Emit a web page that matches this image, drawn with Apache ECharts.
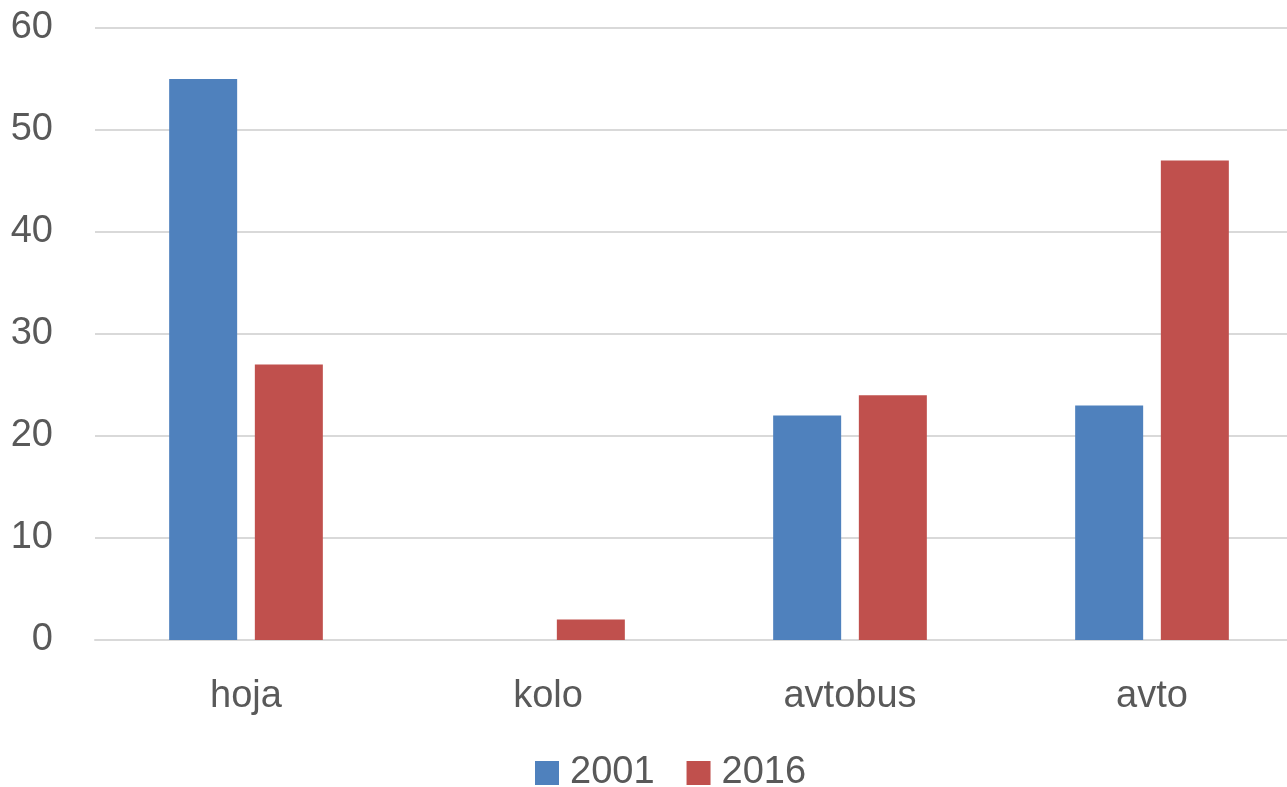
<!DOCTYPE html>
<html>
<head>
    <meta charset="UTF-8">
    <title>hoja kolo avtobus avto</title>
    <script src="https://cdn.jsdelivr.net/npm/echarts@6/dist/echarts.min.js"></script>
    <style>
        html, body { margin: 0; padding: 0; background: #ffffff; }
        #main { width: 1287px; height: 787px; }
    </style>
</head>
<body>
<div id="main"></div>
<script type="text/javascript">
    var categories = ['hoja', 'kolo', 'avtobus', 'avto'];
    var values2001 = [55, 0, 22, 23];
    var values2016 = [27, 2, 24, 47];
    var yTicks = [0, 10, 20, 30, 40, 50, 60];

    var textColor = '#595959';
    var font = '"Liberation Sans", Arial, sans-serif';

    var myChart = echarts.init(document.getElementById('main'));

    var option = {
        animation: false,
        legend: {
            data: ['2001', '2016'],
            left: 530,
            top: 749,
            itemWidth: 24,
            itemHeight: 24,
            itemGap: 32,
            icon: 'rect',
            textStyle: {
                color: textColor,
                fontSize: 38,
                fontFamily: font,
                padding: [0, 0, 0, 6]
            }
        },
        // the plot runs past the right edge of the picture
        grid: {
            top: 28,
            bottom: 147,
            left: 95,
            width: 1208,
            outerBoundsMode: 'none'
        },
        xAxis: {
            type: 'category',
            data: categories,
            axisTick: {show: false},
            axisLine: {lineStyle: {color: '#d9d9d9', width: 2}},
            axisLabel: {
                color: textColor,
                fontSize: 38,
                fontFamily: font,
                margin: 38
            }
        },
        yAxis: {
            type: 'value',
            min: yTicks[0],
            max: yTicks[yTicks.length - 1],
            interval: 10,
            axisLine: {show: false},
            axisTick: {show: false},
            splitLine: {lineStyle: {color: '#d9d9d9', width: 2}},
            axisLabel: {
                color: textColor,
                fontSize: 38,
                fontFamily: font,
                margin: 42
            }
        },
        series: [
            {
                name: '2001',
                type: 'bar',
                data: values2001,
                barWidth: 68,
                barGap: '26%',
                itemStyle: {color: '#4f81bd'}
            },
            {
                name: '2016',
                type: 'bar',
                data: values2016,
                barWidth: 68,
                itemStyle: {color: '#c0504d'}
            }
        ]
    };

    myChart.setOption(option);
</script>
</body>
</html>
